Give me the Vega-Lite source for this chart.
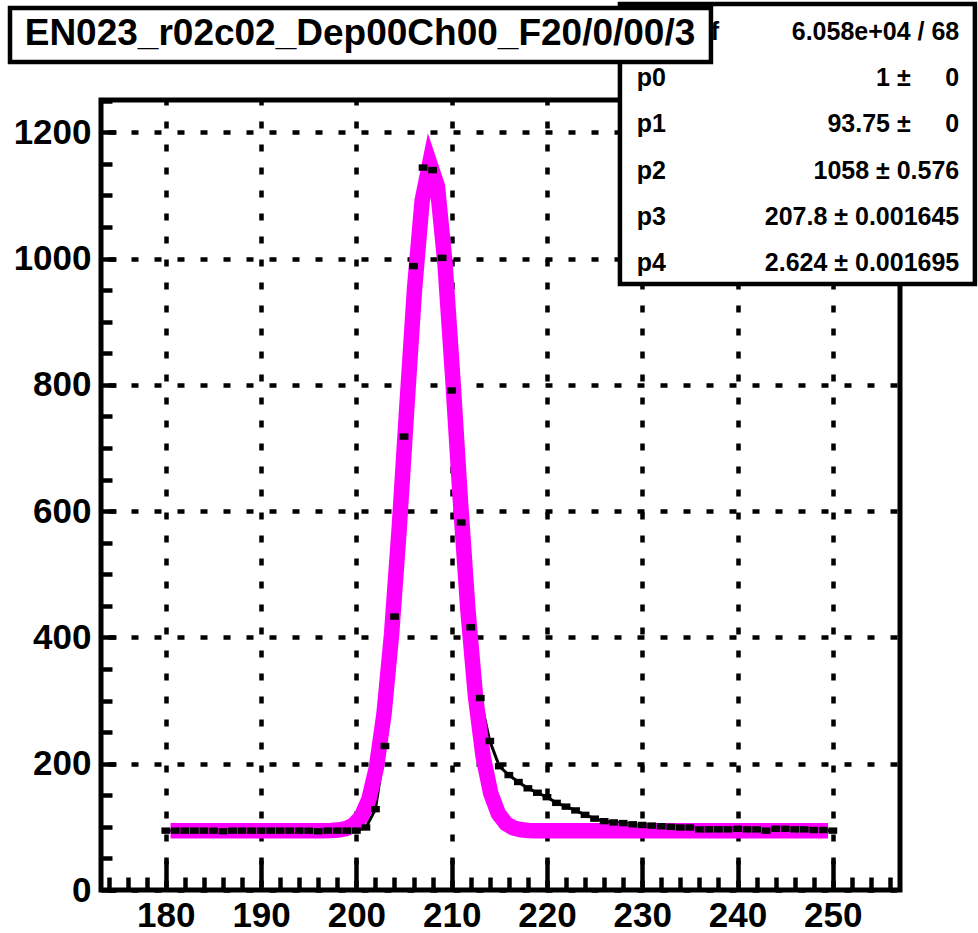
{
  "$schema": "https://vega.github.io/schema/vega-lite/v6.json",
  "width": 799,
  "height": 790,
  "autosize": {"type": "none"},
  "padding": {"left": 101, "top": 100, "right": 78, "bottom": 43},
  "background": "white",
  "config": {
    "view": {"stroke": "black", "strokeWidth": 5},
    "font": "Liberation Sans",
    "axis": {
      "labelFont": "Liberation Sans",
      "labelFontWeight": "bold",
      "labelFontSize": 35,
      "labelColor": "black",
      "tickColor": "black",
      "tickWidth": 4.5,
      "domain": false,
      "title": null,
      "labelFlush": false,
      "labelOverlap": false
    }
  },
  "datasets": {
    "counts": [
      {"adc": 180, "entries": 94}, {"adc": 181, "entries": 94}, {"adc": 182, "entries": 94},
      {"adc": 183, "entries": 94}, {"adc": 184, "entries": 94}, {"adc": 185, "entries": 94},
      {"adc": 186, "entries": 93}, {"adc": 187, "entries": 94}, {"adc": 188, "entries": 94},
      {"adc": 189, "entries": 94}, {"adc": 190, "entries": 94}, {"adc": 191, "entries": 94},
      {"adc": 192, "entries": 94}, {"adc": 193, "entries": 94}, {"adc": 194, "entries": 94},
      {"adc": 195, "entries": 94}, {"adc": 196, "entries": 93}, {"adc": 197, "entries": 94},
      {"adc": 198, "entries": 94}, {"adc": 199, "entries": 94}, {"adc": 200, "entries": 94},
      {"adc": 201, "entries": 99}, {"adc": 202, "entries": 128}, {"adc": 203, "entries": 228},
      {"adc": 204, "entries": 433}, {"adc": 205, "entries": 718}, {"adc": 206, "entries": 988},
      {"adc": 207, "entries": 1144}, {"adc": 208, "entries": 1140}, {"adc": 209, "entries": 1001},
      {"adc": 210, "entries": 791}, {"adc": 211, "entries": 582}, {"adc": 212, "entries": 416},
      {"adc": 213, "entries": 304}, {"adc": 214, "entries": 236}, {"adc": 215, "entries": 196},
      {"adc": 216, "entries": 182}, {"adc": 217, "entries": 171}, {"adc": 218, "entries": 161},
      {"adc": 219, "entries": 154}, {"adc": 220, "entries": 147}, {"adc": 221, "entries": 138},
      {"adc": 222, "entries": 132}, {"adc": 223, "entries": 126}, {"adc": 224, "entries": 119},
      {"adc": 225, "entries": 113}, {"adc": 226, "entries": 109}, {"adc": 227, "entries": 107},
      {"adc": 228, "entries": 106}, {"adc": 229, "entries": 104}, {"adc": 230, "entries": 103},
      {"adc": 231, "entries": 102}, {"adc": 232, "entries": 101}, {"adc": 233, "entries": 100},
      {"adc": 234, "entries": 99}, {"adc": 235, "entries": 99}, {"adc": 236, "entries": 96},
      {"adc": 237, "entries": 96}, {"adc": 238, "entries": 96}, {"adc": 239, "entries": 96},
      {"adc": 240, "entries": 97}, {"adc": 241, "entries": 96}, {"adc": 242, "entries": 96},
      {"adc": 243, "entries": 94}, {"adc": 244, "entries": 97}, {"adc": 245, "entries": 97},
      {"adc": 246, "entries": 96}, {"adc": 247, "entries": 96}, {"adc": 248, "entries": 95},
      {"adc": 249, "entries": 95}, {"adc": 250, "entries": 94}
    ],
    "fit": [
      {"adc": 180.5, "value": 93.75}, {"adc": 196.5, "value": 93.85}, {"adc": 197.3, "value": 94.1},
      {"adc": 198.1, "value": 94.9}, {"adc": 198.9, "value": 97.1}, {"adc": 199.7, "value": 102.8},
      {"adc": 200.5, "value": 115.8}, {"adc": 201.3, "value": 143.0}, {"adc": 202.1, "value": 193.7},
      {"adc": 202.9, "value": 278.8}, {"adc": 203.7, "value": 405.9}, {"adc": 204.5, "value": 573.5},
      {"adc": 205.3, "value": 765.8}, {"adc": 206.1, "value": 951.5}, {"adc": 206.9, "value": 1091.3},
      {"adc": 207.7, "value": 1151.0}, {"adc": 208.5, "value": 1114.8}, {"adc": 209.3, "value": 992.3},
      {"adc": 210.1, "value": 814.3}, {"adc": 210.9, "value": 620.3}, {"adc": 211.7, "value": 444.4},
      {"adc": 212.5, "value": 306.5}, {"adc": 213.3, "value": 211.4}, {"adc": 214.1, "value": 153.0},
      {"adc": 214.9, "value": 121.0}, {"adc": 215.7, "value": 105.1}, {"adc": 216.5, "value": 98.1},
      {"adc": 217.3, "value": 95.3}, {"adc": 218.1, "value": 94.2}, {"adc": 218.9, "value": 93.9},
      {"adc": 219.7, "value": 93.8}, {"adc": 249.5, "value": 93.75}
    ]
  },
  "resolve": {"axis": {"x": "independent", "y": "independent"}},
  "layer": [
    {
      "data": {"name": "counts"},
      "mark": {"type": "line", "color": "black", "strokeWidth": 3},
      "encoding": {
        "x": {
          "field": "adc", "type": "quantitative",
          "scale": {"domain": [173.2, 257.05], "nice": false, "zero": false},
          "axis": {
            "orient": "bottom",
            "values": [180, 190, 200, 210, 220, 230, 240, 250],
            "tickSize": -30,
            "labelPadding": 38,
            "labelBaseline": "top",
            "format": "d",
            "grid": true,
            "gridColor": "black",
            "gridWidth": 4.5,
            "gridDash": [7, 16],
            "gridDashOffset": 2,
            "gridOpacity": 1
          }
        },
        "y": {
          "field": "entries", "type": "quantitative",
          "scale": {"domain": [0, 1251], "nice": false, "zero": false},
          "axis": {
            "orient": "left",
            "values": [0, 200, 400, 600, 800, 1000, 1200],
            "tickSize": -15,
            "labelPadding": 25,
            "format": "d",
            "grid": true,
            "gridColor": "black",
            "gridWidth": 4.5,
            "gridDash": [7, 16],
            "gridDashOffset": 16,
            "gridOpacity": 1
          }
        }
      }
    },
    {
      "data": {"name": "fit"},
      "mark": {"type": "line", "color": "#ff00ff", "strokeWidth": 15.5, "strokeJoin": "miter", "strokeCap": "butt"},
      "encoding": {
        "x": {
          "field": "adc", "type": "quantitative",
          "axis": {
            "orient": "bottom",
            "values": [174, 176, 178, 182, 184, 186, 188, 192, 194, 196, 198, 202, 204, 206, 208, 212, 214, 216, 218, 222, 224, 226, 228, 232, 234, 236, 238, 242, 244, 246, 248, 252, 254, 256],
            "tickSize": -13,
            "labels": false,
            "grid": false
          }
        },
        "y": {
          "field": "value", "type": "quantitative",
          "axis": {
            "orient": "left",
            "values": [50, 100, 150, 250, 300, 350, 450, 500, 550, 650, 700, 750, 850, 900, 950, 1050, 1100, 1150, 1250],
            "tickSize": -11,
            "labels": false,
            "grid": false
          }
        }
      }
    },
    {
      "data": {"name": "counts"},
      "mark": {"type": "point", "shape": "M-1.1,-0.8L1.1,-0.8L1.1,0.8L-1.1,0.8Z", "filled": true, "color": "black", "size": 64, "opacity": 1},
      "encoding": {
        "x": {"field": "adc", "type": "quantitative", "axis": null},
        "y": {"field": "entries", "type": "quantitative", "axis": null}
      }
    },
    {
      "data": {"values": [{}]},
      "mark": {"type": "rect", "fill": "white", "stroke": "black", "strokeWidth": 4.5},
      "encoding": {
        "x": {"datum": 227.66, "type": "quantitative", "axis": null},
        "x2": {"datum": 264.91},
        "y": {"datum": 1403, "type": "quantitative", "axis": null},
        "y2": {"datum": 959.6}
      }
    },
    {
      "data": {"values": [{}]},
      "mark": {
        "type": "text", "align": "left", "baseline": "alphabetic",
        "font": "Liberation Sans", "fontWeight": "bold", "fontSize": 25, "lineHeight": 46.2, "color": "black",
        "text": ["χ² / ndf", "p0", "p1", "p2", "p3", "p4"]
      },
      "encoding": {
        "x": {"datum": 229.42, "type": "quantitative", "axis": null},
        "y": {"datum": 1346, "type": "quantitative", "axis": null}
      }
    },
    {
      "data": {"values": [{}]},
      "mark": {
        "type": "text", "align": "right", "baseline": "alphabetic",
        "font": "Liberation Sans", "fontWeight": "bold", "fontSize": 25, "lineHeight": 46.2, "color": "black",
        "text": ["6.058e+04 / 68", "1 ±\u2007\u2007\u00a00", "93.75 ±\u2007\u2007\u00a00", "1058 ± 0.576", "207.8 ± 0.001645", "2.624 ± 0.001695"]
      },
      "encoding": {
        "x": {"datum": 263.27, "type": "quantitative", "axis": null},
        "y": {"datum": 1346, "type": "quantitative", "axis": null}
      }
    },
    {
      "data": {"values": [{}]},
      "mark": {"type": "rect", "fill": "white", "stroke": "black", "strokeWidth": 4.5},
      "encoding": {
        "x": {"datum": 163.65, "type": "quantitative", "axis": null},
        "x2": {"datum": 237.21},
        "y": {"datum": 1396.6, "type": "quantitative", "axis": null},
        "y2": {"datum": 1311.1}
      }
    },
    {
      "data": {"values": [{}]},
      "mark": {
        "type": "text", "align": "center", "baseline": "middle",
        "font": "Liberation Sans", "fontWeight": "bold", "fontSize": 37, "color": "black",
        "text": "EN023_r02c02_Dep00Ch00_F20/0/00/3"
      },
      "encoding": {
        "x": {"datum": 200.38, "type": "quantitative", "axis": null},
        "y": {"datum": 1355, "type": "quantitative", "axis": null}
      }
    }
  ]
}
